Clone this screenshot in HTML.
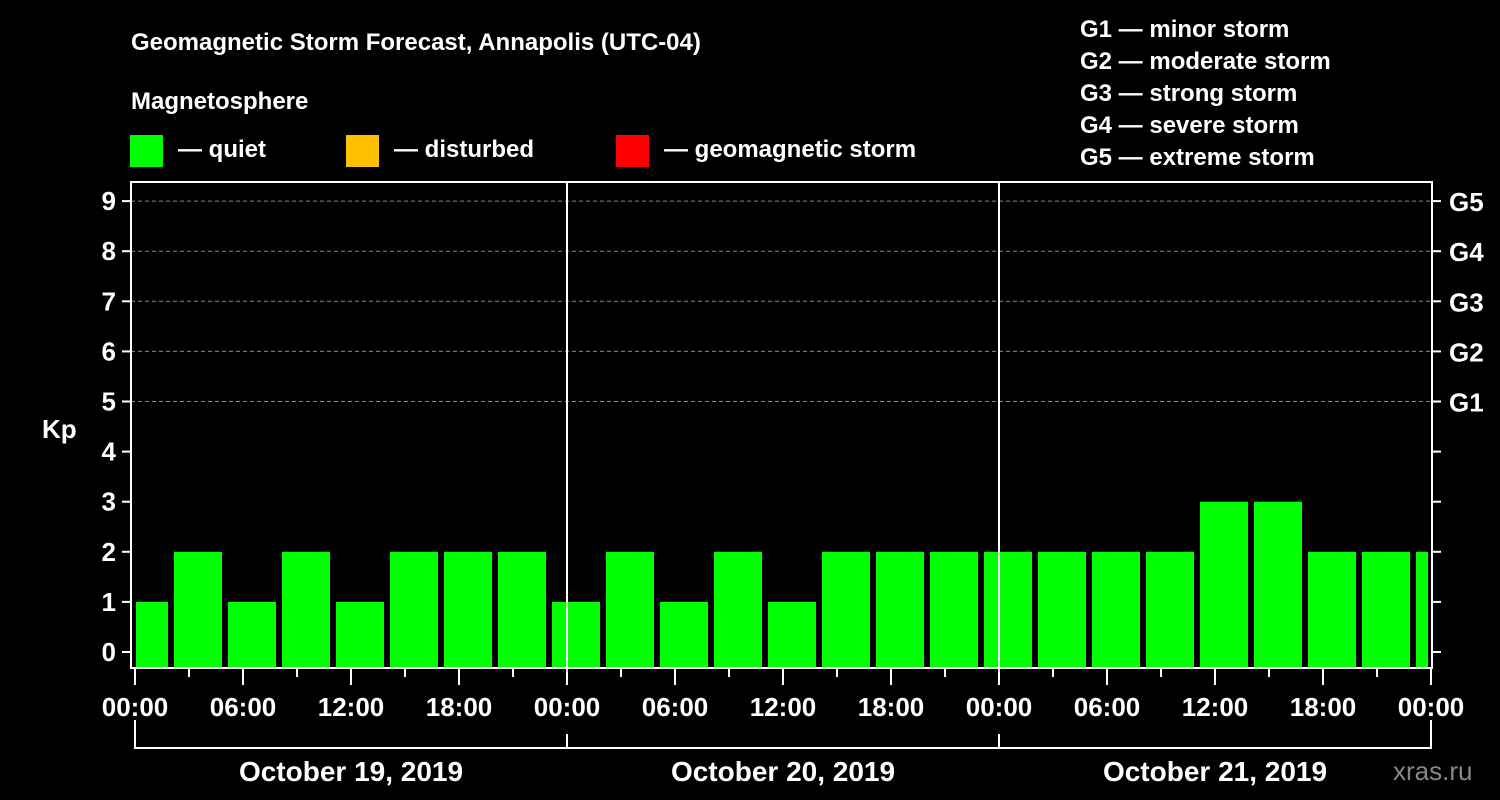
<!DOCTYPE html>
<html><head><meta charset="utf-8"><style>
body{margin:0;background:#000;}
svg{display:block;font-family:"Liberation Sans",Arial,sans-serif;font-weight:bold;}
</style></head><body>
<svg id="c" width="1500" height="800" viewBox="0 0 1500 800">
<rect width="1500" height="800" fill="#000"/>
<g fill="#fff" font-size="24">
<text x="131" y="50">Geomagnetic Storm Forecast, Annapolis (UTC-04)</text>
<text x="131" y="109">Magnetosphere</text>
<rect x="130" y="135" width="33" height="32" fill="#00ff00"/>
<text x="178" y="157">— quiet</text>
<rect x="346" y="135" width="33" height="32" fill="#ffc000"/>
<text x="394" y="157">— disturbed</text>
<rect x="616" y="135" width="33" height="32" fill="#ff0000"/>
<text x="664" y="157">— geomagnetic storm</text>
<text x="1080" y="37">G1 — minor storm</text>
<text x="1080" y="69">G2 — moderate storm</text>
<text x="1080" y="101">G3 — strong storm</text>
<text x="1080" y="133">G4 — severe storm</text>
<text x="1080" y="165">G5 — extreme storm</text>
<text x="42" y="438" font-size="26">Kp</text>
<text x="1393" y="780" font-weight="normal" fill="#888" font-size="26">xras.ru</text>
</g>
<defs><clipPath id="pc"><rect x="136" y="182" width="1292" height="486"/></clipPath></defs>
<g id="grid"></g>
<g id="bars" clip-path="url(#pc)"></g>
<g id="axes"></g>
</svg>
<script>
const kpValues=[1,2,1,2,1,2,2,2, 1,2,1,2,1,2,2,2, 2,2,2,2,3,3,2,2, 2];
const yTicks=[0,1,2,3,4,5,6,7,8,9];
const gLabels=["G1","G2","G3","G4","G5"];
const xTickLabels=["00:00","06:00","12:00","18:00","00:00","06:00","12:00","18:00","00:00","06:00","12:00","18:00","00:00"];
const dayLabels=["October 19, 2019","October 20, 2019","October 21, 2019"];
const NS="http://www.w3.org/2000/svg";
const X0=135,DAY=432,HOUR=DAY/24;
const x=h=>X0+h*HOUR;
const y=v=>652-v*50.1;
function el(t,a,p){const e=document.createElementNS(NS,t);for(const k in a)e.setAttribute(k,a[k]);p.appendChild(e);return e;}
const grid=document.getElementById('grid'),bars=document.getElementById('bars'),axes=document.getElementById('axes');
for(let v=5;v<=9;v++){const l=el('line',{x1:131,x2:1432,y1:y(v),y2:y(v),stroke:'#888','stroke-dasharray':'4,3','stroke-width':1},grid);

}
kpValues.forEach((v,i)=>{const r=el('rect',{x:x(i*3)-15,y:y(v),width:48,height:668-y(v),fill:'#00ff00'},bars);

});
for(let d=1;d<3;d++){const l=el('line',{x1:x(d*24),x2:x(d*24),y1:182,y2:668,stroke:'#fff','stroke-width':2},axes);

}
const f=el('rect',{x:131,y:182,width:1301,height:486,fill:'none',stroke:'#fff','stroke-width':2},axes);


yTicks.forEach(v=>{el('line',{x1:122,x2:131,y1:y(v),y2:y(v),stroke:'#fff','stroke-width':2},axes);
el('line',{x1:1432,x2:1441,y1:y(v),y2:y(v),stroke:'#fff','stroke-width':2},axes);
const t=el('text',{x:116,y:y(v)+9,'text-anchor':'end',fill:'#fff','font-size':26},axes);t.textContent=v;

});
gLabels.forEach((g,i)=>{const t=el('text',{x:1449,y:y(5+i)+10,fill:'#fff','font-size':26},axes);t.textContent=g;

});
for(let h=0;h<=72;h+=3){const major=h%6===0;el('line',{x1:x(h),x2:x(h),y1:668,y2:major?685:677,stroke:'#fff','stroke-width':2},axes);}
xTickLabels.forEach((s,i)=>{const t=el('text',{x:x(i*6),y:716,'text-anchor':'middle',fill:'#fff','font-size':26},axes);t.textContent=s;

});
el('polyline',{points:`${x(0)},720 ${x(0)},748 ${x(72)},748 ${x(72)},720`,fill:'none',stroke:'#fff','stroke-width':2},axes);
for(let d=1;d<3;d++)el('line',{x1:x(d*24),x2:x(d*24),y1:734,y2:748,stroke:'#fff','stroke-width':2},axes);
dayLabels.forEach((s,i)=>{const t=el('text',{x:x(i*24+12),y:781,'text-anchor':'middle',fill:'#fff','font-size':28},axes);t.textContent=s;

});
</script>
</body></html>
